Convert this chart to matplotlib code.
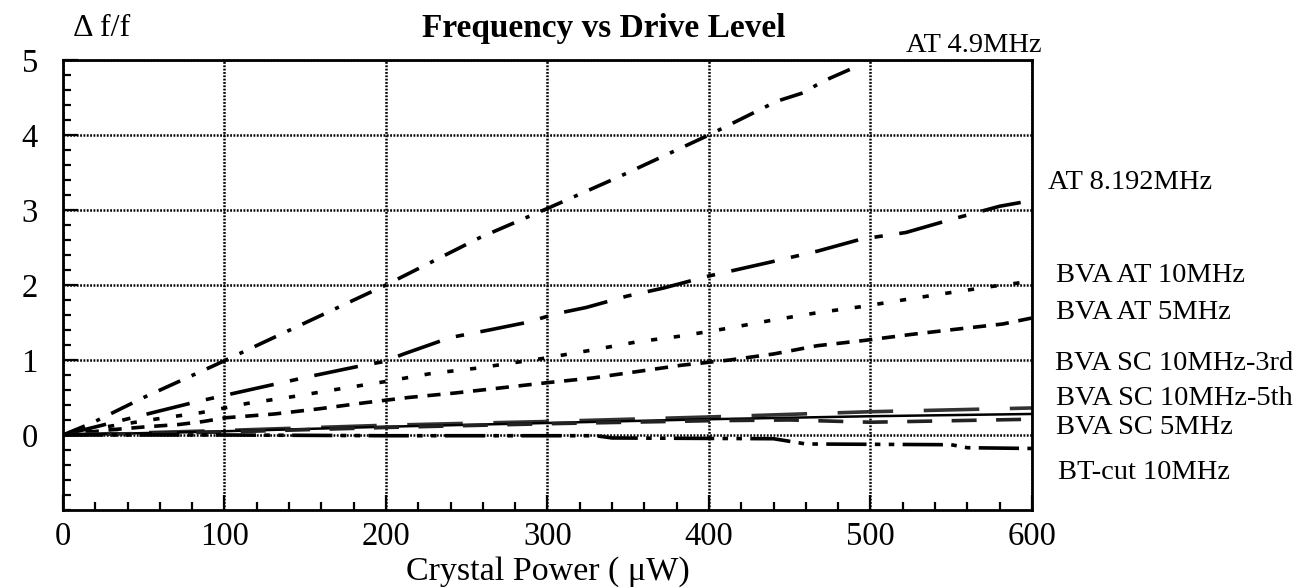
import matplotlib
matplotlib.use("Agg")
import matplotlib.pyplot as plt
from matplotlib.ticker import MultipleLocator, FixedLocator

plt.rcParams['font.family'] = ['Liberation Serif', 'DejaVu Serif']
plt.rcParams['lines.scale_dashes'] = False

# values (power in uW, delta f / f)
at49_x = [0, 18, 50, 95, 200, 258, 301, 343, 374, 400, 442, 458, 471, 490]
at49_y = [0, 0.16, 0.5, 0.94, 2.0, 2.63, 3.03, 3.43, 3.74, 4.0, 4.45, 4.56, 4.72, 4.9]

at8_x = [0, 56, 84, 113, 136, 155, 184, 199, 211, 240, 264, 287, 306, 324, 349, 372,
         400, 437, 467, 494, 522, 551, 580, 593]
at8_y = [0, 0.3, 0.45, 0.59, 0.7, 0.79, 0.92, 0.98, 1.08, 1.3, 1.4, 1.5, 1.62, 1.7, 1.85, 1.96,
         2.12, 2.3, 2.45, 2.61, 2.7, 2.88, 3.05, 3.1]

bva10_x = [0, 30, 57, 86, 114, 142, 170, 199, 228, 256, 297, 327, 355, 383, 411, 439,
           467, 494, 523, 550, 575, 600]
bva10_y = [0, 0.12, 0.21, 0.3, 0.42, 0.51, 0.61, 0.71, 0.82, 0.89, 1.02, 1.13, 1.24, 1.32, 1.42, 1.53,
           1.63, 1.71, 1.81, 1.9, 1.98, 2.05]

bva5_x = [0, 30, 52, 72, 87, 101, 131, 159, 187, 214, 243, 272, 301, 328, 357, 383,
          413, 440, 467, 496, 525, 553, 582, 600]
bva5_y = [0, 0.07, 0.11, 0.14, 0.18, 0.23, 0.28, 0.35, 0.43, 0.5, 0.56, 0.63, 0.70, 0.76, 0.85, 0.93,
          1.0, 1.08, 1.19, 1.26, 1.34, 1.41, 1.48, 1.56]

sc3_x = [0, 100, 200, 300, 400, 500, 600]
sc3_y = [0, 0.06, 0.13, 0.18, 0.24, 0.31, 0.36]

sc5th_x = [0, 100, 200, 300, 400, 500, 600]
sc5th_y = [0, 0.05, 0.11, 0.16, 0.21, 0.25, 0.28]

sc5_x = [0, 100, 200, 300, 400, 450, 500, 550, 600]
sc5_y = [0, 0.04, 0.1, 0.15, 0.19, 0.2, 0.17, 0.19, 0.21]

bt_x = [0, 100, 200, 330, 340, 440, 460, 550, 560, 600]
bt_y = [0, 0, -0.01, -0.01, -0.04, -0.05, -0.12, -0.13, -0.17, -0.18]

labels = ["AT 4.9MHz", "AT 8.192MHz", "BVA AT 10MHz", "BVA AT 5MHz",
          "BVA SC 10MHz-3rd", "BVA SC 10MHz-5th", "BVA SC 5MHz", "BT-cut 10MHz"]
label_x = [522, 610, 615, 615, 614, 615, 615, 616]
label_y = [5.19, 3.36, 2.12, 1.63, 0.95, 0.48, 0.1, -0.5]

fig = plt.figure(figsize=(13.06, 5.88), dpi=100)
ax = fig.add_axes([0.0482, 0.1327, 0.7420, 0.7653])

k = 'black'
ax.plot(at49_x, at49_y, color=k, lw=2.6, linestyle=(0, (17, 9, 3, 9)))
ax.plot(at8_x, at8_y, color=k, lw=2.6, linestyle=(0, (32, 12, 6, 12)))
ax.plot(bva10_x, bva10_y, color=k, lw=2.6, linestyle=(0, (4.5, 12)))
ax.plot(bva5_x, bva5_y, color=k, lw=2.6, linestyle=(0, (9.5, 7)))
ax.plot(sc3_x, sc3_y, color='#333333', lw=2.6, linestyle=(0, (40, 22)))
ax.plot(sc5th_x, sc5th_y, color=k, lw=1.8)
ax.plot(sc5_x, sc5_y, color='#222222', lw=2.6, linestyle=(0, (18, 14)))
ax.plot(bt_x, bt_y, color=k, lw=2.6, linestyle=(0, (29, 6, 4, 6, 4, 6)))

ax.set_xlim(0, 600)
ax.set_ylim(-1, 5)
ax.xaxis.set_major_locator(MultipleLocator(100))
ax.xaxis.set_minor_locator(MultipleLocator(20))
ax.yaxis.set_major_locator(FixedLocator([0, 1, 2, 3, 4, 5]))
ax.yaxis.set_minor_locator(MultipleLocator(0.2))
ax.tick_params(which='both', direction='in', width=1.6, top=False, right=False)
ax.tick_params(which='major', length=11, labelsize=23.5, pad=8)
ax.tick_params(axis='y', which='major', pad=18)
ax.tick_params(which='minor', length=6)
ax.grid(True, which='major', color=k, linestyle=(0, (1.3, 1.1)), lw=1.8)
for s in ax.spines.values():
    s.set_linewidth(2.0)

ax.set_xlabel("Crystal Power ( μW)", fontsize=24.5, labelpad=3)
fig.text(0.0557, 0.952, "Δ f/f", fontsize=23, ha='left', va='center')
fig.text(0.462, 0.952, "Frequency vs Drive Level", fontsize=24, fontweight='bold',
         ha='center', va='center')

for name, lx, ly in zip(labels, label_x, label_y):
    ax.text(lx, ly, name, fontsize=20.5, ha='left', va='center', clip_on=False)

fig.savefig("out.png", dpi=100)
